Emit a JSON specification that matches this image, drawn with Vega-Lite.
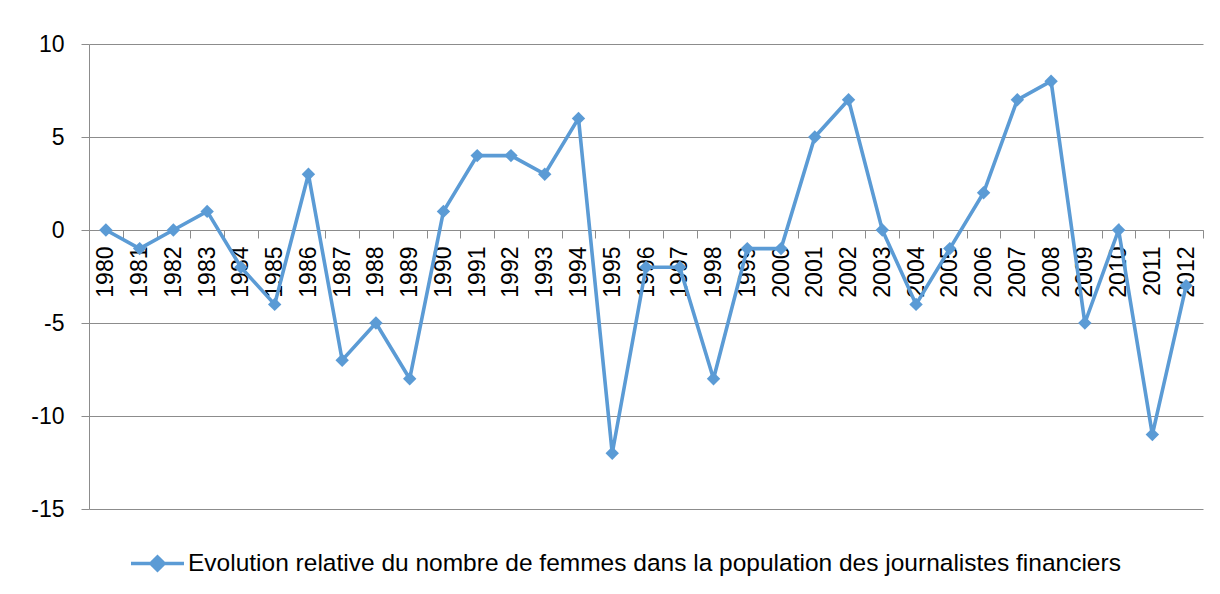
{
  "$schema": "https://vega.github.io/schema/vega-lite/v6.json",
  "width": 1114,
  "height": 465,
  "autosize": {"type": "none"},
  "padding": {"left": 89, "top": 44, "right": 17, "bottom": 85},
  "background": "white",
  "config": {"view": {"stroke": null}, "font": "Liberation Sans"},
  "data": {
    "values": [
      {"year": "1980", "value": 0},
      {"year": "1981", "value": -1},
      {"year": "1982", "value": 0},
      {"year": "1983", "value": 1},
      {"year": "1984", "value": -2},
      {"year": "1985", "value": -4},
      {"year": "1986", "value": 3},
      {"year": "1987", "value": -7},
      {"year": "1988", "value": -5},
      {"year": "1989", "value": -8},
      {"year": "1990", "value": 1},
      {"year": "1991", "value": 4},
      {"year": "1992", "value": 4},
      {"year": "1993", "value": 3},
      {"year": "1994", "value": 6},
      {"year": "1995", "value": -12},
      {"year": "1996", "value": -2},
      {"year": "1997", "value": -2},
      {"year": "1998", "value": -8},
      {"year": "1999", "value": -1},
      {"year": "2000", "value": -1},
      {"year": "2001", "value": 5},
      {"year": "2002", "value": 7},
      {"year": "2003", "value": 0},
      {"year": "2004", "value": -4},
      {"year": "2005", "value": -1},
      {"year": "2006", "value": 2},
      {"year": "2007", "value": 7},
      {"year": "2008", "value": 8},
      {"year": "2009", "value": -5},
      {"year": "2010", "value": 0},
      {"year": "2011", "value": -11},
      {"year": "2012", "value": -3}
    ]
  },
  "encoding": {
    "x": {
      "field": "year",
      "type": "ordinal",
      "scale": {"type": "band", "paddingInner": 0, "paddingOuter": 0},
      "axis": {
        "title": null,
        "offset": -279,
        "labelAngle": -90,
        "tickBand": "extent",
        "tickSize": 8,
        "tickColor": "#8c8c8c",
        "domainColor": "#8c8c8c",
        "labelPadding": 8,
        "labelFontSize": 23,
        "labelColor": "#000000",
        "grid": false
      }
    },
    "y": {
      "field": "value",
      "type": "quantitative",
      "scale": {"domain": [-15, 10], "nice": false},
      "axis": {
        "title": null,
        "values": [-15, -10, -5, 0, 5, 10],
        "labelExpr": "replace(datum.label, '−', '-')",
        "tickSize": 8,
        "tickColor": "#8c8c8c",
        "domainColor": "#8c8c8c",
        "gridColor": "#8c8c8c",
        "labelPadding": 17,
        "labelFontSize": 23,
        "labelColor": "#000000"
      }
    },
    "color": {
      "datum": "Evolution relative du nombre de femmes dans la population des journalistes financiers",
      "scale": {"range": ["#5B9BD5"]},
      "legend": {
        "title": null,
        "orient": "none",
        "legendX": 40,
        "legendY": 491,
        "direction": "horizontal",
        "symbolType": "M-1,0L1,0M0,-0.25L0.25,0L0,0.25L-0.25,0Z",
        "symbolSize": 2809,
        "symbolStrokeWidth": 3.5,
        "symbolFillColor": "#5B9BD5",
        "symbolStrokeColor": "#5B9BD5",
        "labelFontSize": 24.5,
        "labelColor": "#000000",
        "labelLimit": 2000,
        "labelOffset": 2
      }
    }
  },
  "layer": [
    {"mark": {"type": "line", "strokeWidth": 3.6}},
    {"mark": {"type": "point", "shape": "diamond", "filled": true, "size": 180, "opacity": 1}}
  ]
}
